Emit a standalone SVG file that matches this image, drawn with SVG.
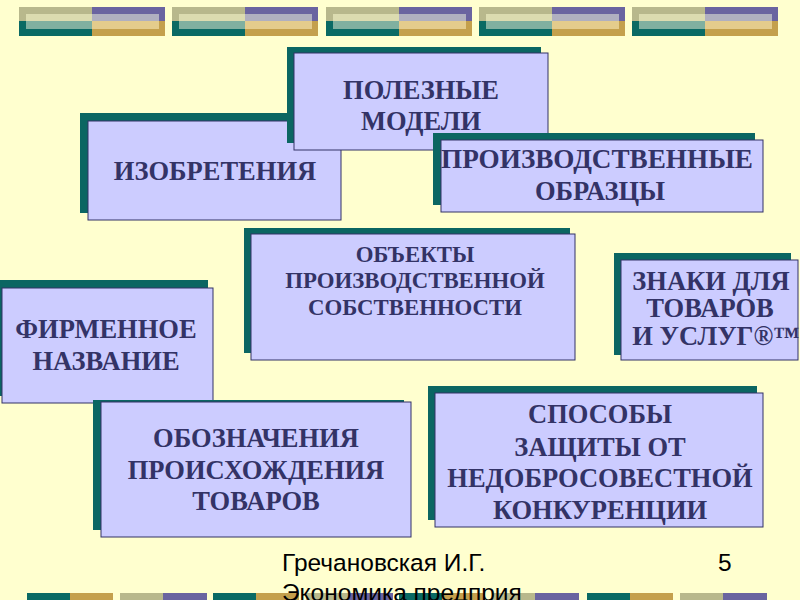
<svg xmlns="http://www.w3.org/2000/svg" width="800" height="600" viewBox="0 0 800 600">
<style>
.sh{fill:#0b6662}
.bx{fill:#ccccff;stroke:#333366;stroke-width:1}
.t{font-family:"Liberation Serif","Times New Roman",serif;font-weight:bold;fill:#333366;text-anchor:middle}
.f{font-family:"Liberation Sans",Arial,sans-serif;fill:#000}
.ol{fill:#b8b88c}.pu{fill:#6a64a0}.te{fill:#0a6a64}.go{fill:#c4a04c}
.iol{fill:#dcdcb0}.ipu{fill:#b0b0c0}.ite{fill:#80b0a0}.igo{fill:#e4cc8c}
</style>
<defs>
<g id="tb">
<rect x="0" y="7" width="73" height="14" class="ol"/>
<rect x="73" y="7" width="73" height="14" class="pu"/>
<rect x="0" y="21" width="73" height="15" class="te"/>
<rect x="73" y="21" width="73" height="15" class="go"/>
<rect x="7" y="14" width="66" height="7" class="iol"/>
<rect x="73" y="14" width="67" height="7" class="ipu"/>
<rect x="7" y="21" width="66" height="8" class="ite"/>
<rect x="73" y="21" width="67" height="8" class="igo"/>
</g>
<g id="bA"><rect x="0" y="593" width="43" height="7" class="te"/><rect x="43" y="593" width="43" height="7" class="go"/></g>
<g id="bB"><rect x="0" y="593" width="43" height="7" class="ol"/><rect x="43" y="593" width="44" height="7" class="pu"/></g>
</defs>
<rect width="800" height="600" fill="#ffffcf"/>
<g id="topbar">
<use href="#tb" x="19"/><use href="#tb" x="172"/><use href="#tb" x="326"/><use href="#tb" x="479"/><use href="#tb" x="632"/>
</g>
<g id="bottombar">
<use href="#bA" x="27"/><use href="#bB" x="120"/><use href="#bA" x="213"/><use href="#bB" x="306"/><use href="#bA" x="399"/><use href="#bB" x="492"/><use href="#bA" x="587"/><use href="#bB" x="680"/>
</g>
<g id="izobreteniya">
<rect x="80" y="113" width="253" height="100" class="sh"/>
<rect x="88" y="121" width="253" height="99" class="bx"/>
<text x="215" y="180" font-size="26.5" class="t">ИЗОБРЕТЕНИЯ</text>
</g>
<g id="poleznye">
<rect x="287" y="47" width="254" height="96" class="sh"/>
<rect x="294" y="53" width="254" height="97" class="bx"/>
<text x="421" y="99" font-size="26.5" class="t">ПОЛЕЗНЫЕ</text>
<text x="421" y="130" font-size="26.5" class="t">МОДЕЛИ</text>
</g>
<g id="proizv-obrazcy">
<rect x="433" y="133" width="322" height="72" class="sh"/>
<rect x="441" y="140" width="322" height="72" class="bx"/>
<text x="597" y="168" font-size="26.5" class="t" textLength="312" lengthAdjust="spacingAndGlyphs">ПРОИЗВОДСТВЕННЫЕ</text>
<text x="600" y="200" font-size="26.5" class="t">ОБРАЗЦЫ</text>
</g>
<g id="obekty">
<rect x="244" y="228" width="326" height="125" class="sh"/>
<rect x="251" y="234" width="324" height="126" class="bx"/>
<text x="415" y="262" font-size="22.8" class="t">ОБЪЕКТЫ</text>
<text x="415" y="288" font-size="22.8" class="t">ПРОИЗВОДСТВЕННОЙ</text>
<text x="415" y="315" font-size="22.8" class="t">СОБСТВЕННОСТИ</text>
</g>
<g id="znaki">
<rect x="614" y="253" width="177" height="102" class="sh"/>
<rect x="621" y="260" width="177" height="100" class="bx"/>
<text x="711" y="290" font-size="26.5" class="t">ЗНАКИ ДЛЯ</text>
<text x="710" y="317" font-size="26.5" class="t">ТОВАРОВ</text>
<text x="716" y="345" font-size="26.5" class="t">И УСЛУГ®™</text>
</g>
<g id="firmennoe">
<rect x="-5" y="280" width="213" height="116" class="sh"/>
<rect x="2" y="288" width="211" height="115" class="bx"/>
<text x="106" y="338" font-size="26.5" class="t">ФИРМЕННОЕ</text>
<text x="106" y="370" font-size="26.5" class="t">НАЗВАНИЕ</text>
</g>
<g id="oboznacheniya">
<rect x="93" y="400" width="311" height="130" class="sh"/>
<rect x="101" y="402" width="310" height="135" class="bx"/>
<text x="256" y="447" font-size="26.5" class="t">ОБОЗНАЧЕНИЯ</text>
<text x="256" y="479" font-size="26.5" class="t">ПРОИСХОЖДЕНИЯ</text>
<text x="256" y="510" font-size="26.5" class="t">ТОВАРОВ</text>
</g>
<g id="sposoby">
<rect x="428" y="386" width="329" height="134" class="sh"/>
<rect x="435" y="393" width="328" height="134" class="bx"/>
<text x="600" y="423" font-size="26.5" class="t">СПОСОБЫ</text>
<text x="600" y="456" font-size="26.5" class="t">ЗАЩИТЫ ОТ</text>
<text x="600" y="487" font-size="26.5" class="t">НЕДОБРОСОВЕСТНОЙ</text>
<text x="600" y="519" font-size="26.5" class="t">КОНКУРЕНЦИИ</text>
</g>
<g id="footer">
<text x="282" y="571" font-size="24.5" class="f">Гречановская И.Г.</text>
<text x="282" y="601" font-size="24.5" class="f">Экономика предприя</text>
<text x="718" y="571" font-size="24.5" class="f">5</text>
</g>
</svg>
